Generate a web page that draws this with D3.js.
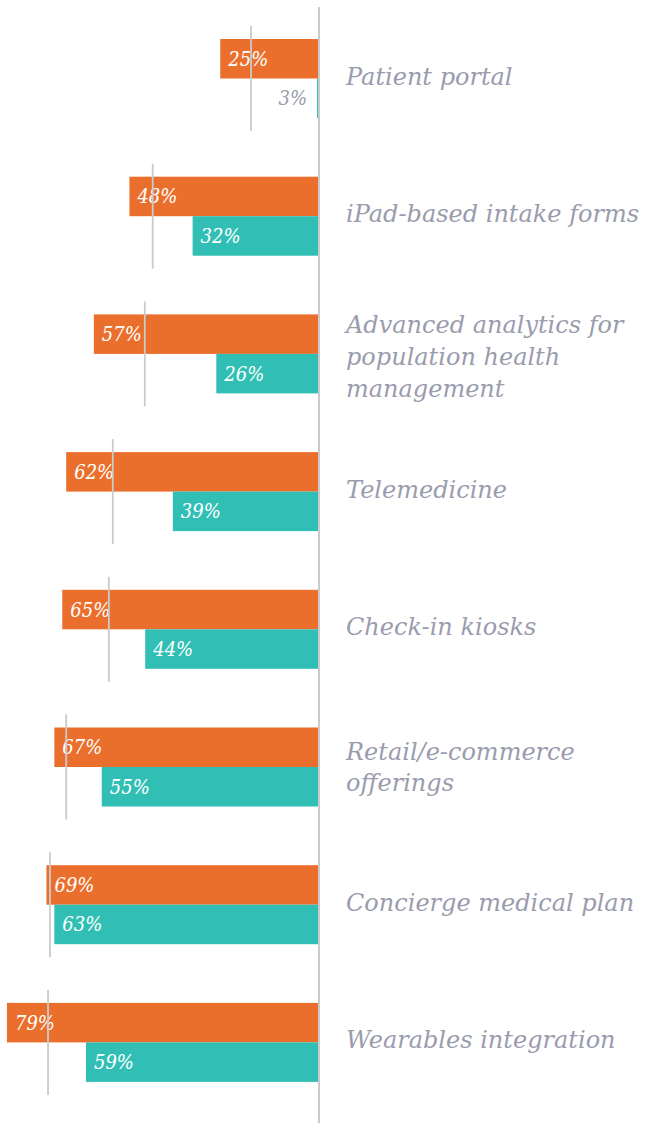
<!DOCTYPE html>
<html lang="en">
<head>
    <meta charset="UTF-8">
    <title>Technology adoption bars</title>
    <script src="https://d3js.org/d3.v7.min.js"></script>
    <style>
        body { margin: 0; background: #ffffff; }
        .cat_label {
            font-family: "DejaVu Serif", serif;
            font-style: italic;
            font-size: 24px;
            fill: #9a9cae;
        }
        .val_label {
            font-family: "DejaVu Serif Condensed", "DejaVu Serif", serif;
            font-style: italic;
            font-size: 20px;
        }
    </style>
</head>
<body>
<svg width="645" height="1123"></svg>

<script>
    // categories (label lines as printed)
    const categories = [
        ["Patient portal"],
        ["iPad-based intake forms"],
        ["Advanced analytics for", "population health", "management"],
        ["Telemedicine"],
        ["Check-in kiosks"],
        ["Retail/e-commerce", "offerings"],
        ["Concierge medical plan"],
        ["Wearables integration"]
    ];
    // bar lengths (%)
    const orangeValues = [25, 48, 57, 64, 65, 67, 69, 79];
    const tealValues = [0.5, 32, 26, 37, 44, 55, 67, 59];
    // printed labels
    const orangeLabels = ["25%", "48%", "57%", "62%", "65%", "67%", "69%", "79%"];
    const tealLabels = ["3%", "32%", "26%", "39%", "44%", "55%", "63%", "59%"];
    // grey reference marks (%)
    const markerValues = [17.2, 42.1, 44.1, 52.2, 53.2, 64.0, 68.1, 68.6];

    const svg = d3.select("svg");
    const orange = "#eb6f2c";
    const teal = "#31bfb5";
    const grey = "#cbcbcb";

    const names = categories.map(d => d.join(" "));

    // x: bars grow to the left of the axis
    const x = d3.scaleLinear().domain([0, 100]).range([319, -76]);
    // y: one band per category
    const y = d3.scaleBand().domain(names).range([26, 26 + 8 * 137.7]).paddingInner(0);

    const barH = 39.5, topPad = 13;

    const rows = names.map((n, i) => ({
        name: n, lines: categories[i],
        o: orangeValues[i], t: tealValues[i],
        ol: orangeLabels[i], tl: tealLabels[i],
        m: markerValues[i]
    }));

    const g = svg.selectAll("g.row").data(rows).enter()
        .append("g").attr("class", "row")
        .attr("transform", d => "translate(0," + y(d.name) + ")");

    // orange bars
    g.append("rect")
        .attr("x", d => x(d.o))
        .attr("y", topPad)
        .attr("width", d => x(0) - x(d.o))
        .attr("height", barH)
        .attr("fill", orange);

    // teal bars
    g.append("rect")
        .attr("x", d => x(d.t))
        .attr("y", topPad + barH)
        .attr("width", d => Math.max(2, x(0) - x(d.t)))
        .attr("height", barH)
        .attr("fill", teal);

    // value labels
    g.append("text").attr("class", "val_label")
        .attr("x", d => x(d.o) + 8)
        .attr("y", topPad + barH / 2 + 7)
        .attr("fill", "#ffffff")
        .text(d => d.ol);

    const small = d => (x(0) - x(d.t)) < 40;
    g.append("text").attr("class", "val_label")
        .attr("x", d => small(d) ? x(d.t) - 10 : x(d.t) + 8)
        .attr("text-anchor", d => small(d) ? "end" : "start")
        .attr("y", topPad + barH * 1.5 + 7)
        .attr("fill", d => small(d) ? "#9a9cae" : "#ffffff")
        .text(d => d.tl);

    // grey marker lines
    g.append("line")
        .attr("x1", d => x(d.m)).attr("x2", d => x(d.m))
        .attr("y1", 0).attr("y2", topPad * 2 + barH * 2)
        .attr("stroke", grey)
        .attr("stroke-width", 1.8);

    // category labels
    const lineH = 31.7;
    g.append("text").attr("class", "cat_label")
        .selectAll("tspan")
        .data(d => d.lines.map((l, i) => ({ l: l, i: i, n: d.lines.length })))
        .enter().append("tspan")
        .attr("x", 346)
        .attr("y", t => topPad + barH + 6 + (t.n - 1) * 2.5 + (t.i - (t.n - 1) / 2) * lineH)
        .text(t => t.l);

    // vertical axis
    svg.append("line")
        .attr("x1", x(0)).attr("x2", x(0))
        .attr("y1", 7).attr("y2", 1123)
        .attr("stroke", grey)
        .attr("stroke-width", 2);
</script>
</body>
</html>
